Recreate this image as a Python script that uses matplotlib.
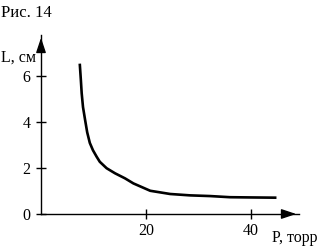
import matplotlib
matplotlib.use('Agg')
import matplotlib.pyplot as plt

# curve: pressure (torr) vs length (cm)
P = [7.4, 7.6, 7.75, 8.0, 8.4, 8.8, 9.3, 9.9, 10.6, 11.2, 12.5, 14.1, 16.0, 17.6, 20.8, 24.6, 28.4, 32.2, 36.0, 40.0, 44.6]
L = [6.48, 5.8, 5.25, 4.65, 4.09, 3.55, 3.09, 2.77, 2.49, 2.27, 1.99, 1.77, 1.55, 1.33, 1.01, 0.87, 0.81, 0.78, 0.73, 0.72, 0.71]

xticks = [20, 40]
yticks = [0, 2, 4, 6]

plt.rcParams['font.family'] = 'Liberation Serif'

fig = plt.figure(figsize=(3.31, 2.5), dpi=100)
ax = fig.add_axes([41 / 331, 36 / 250, 258 / 331, 179 / 250])
ax.set_xlim(0, 258 / 5.25)
ax.set_ylim(0, 179 / 23)

ax.plot(P, L, color='black', lw=1.9)

for s in ['top', 'right']:
    ax.spines[s].set_visible(False)
for s in ['left', 'bottom']:
    ax.spines[s].set_linewidth(1.0)

ax.set_xticks(xticks)
ax.set_yticks(yticks)
ax.tick_params(direction='inout', length=7, width=1.0, labelsize=11.5)
ax.tick_params(axis='y', pad=4)
ax.tick_params(axis='x', pad=3)

# arrow heads on axes
ax.annotate('', xy=(1.0, 0), xycoords='axes fraction', xytext=(0.93, 0),
            arrowprops=dict(arrowstyle='-|>,head_length=0.9,head_width=0.3', color='black', lw=1.0))
ax.annotate('', xy=(0, 1.0), xycoords='axes fraction', xytext=(0, 0.93),
            arrowprops=dict(arrowstyle='-|>,head_length=0.9,head_width=0.3', color='black', lw=1.0))

fig.text(1 / 331, 1 - 13 / 250, 'Рис. 14', fontsize=12, va='center', ha='left')
fig.text(1 / 331, 1 - 58 / 250, 'L, см', fontsize=11.5, va='center', ha='left')
fig.text(272 / 331, 1 - 238 / 250, 'P, торр', fontsize=11.5, va='center', ha='left')

fig.savefig('out.png', dpi=100, facecolor='white')
